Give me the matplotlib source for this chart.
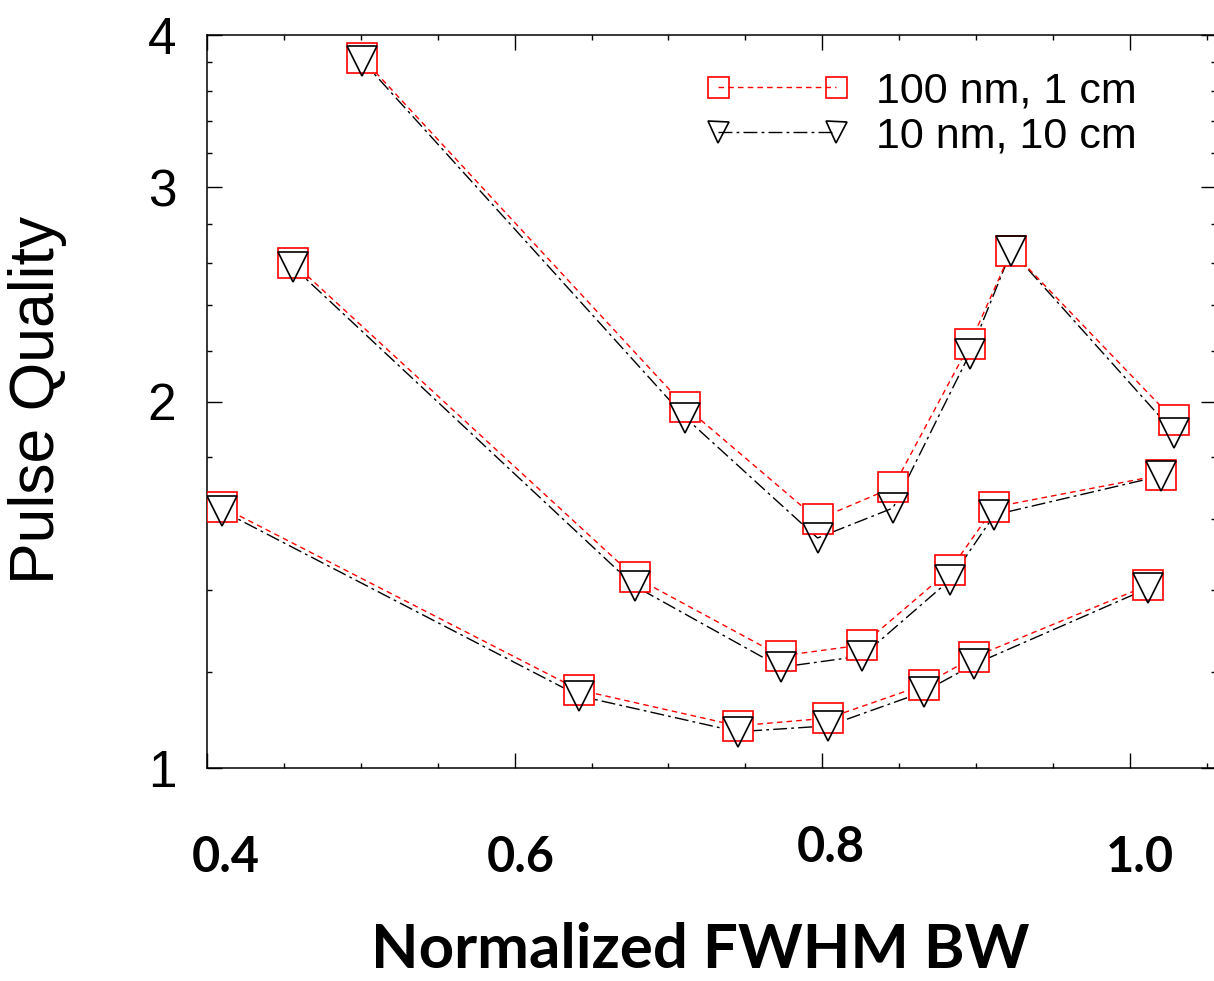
import numpy as np
import matplotlib
matplotlib.use("Agg")
import matplotlib.pyplot as plt
from matplotlib.lines import Line2D
from matplotlib.ticker import FixedLocator, NullFormatter
from matplotlib.transforms import ScaledTranslation

# ---------------- data ----------------
series_labels = ["100 nm, 1 cm", "10 nm, 10 cm"]

# curve A (starts at 0.5)
xA = [0.501, 0.711, 0.797, 0.846, 0.896, 0.923, 1.029]
yA_100 = [3.83, 1.98, 1.60, 1.70, 2.23, 2.66, 1.93]
yA_10 = [3.81, 1.94, 1.545, 1.635, 2.19, 2.66, 1.885]

# curve B (starts at 0.45)
xB = [0.456, 0.678, 0.773, 0.826, 0.883, 0.912, 1.020]
yB_100 = [2.60, 1.435, 1.236, 1.262, 1.454, 1.638, 1.740]
yB_10 = [2.58, 1.411, 1.210, 1.236, 1.427, 1.614, 1.737]

# curve C (starts at 0.41)
xC = [0.410, 0.642, 0.745, 0.804, 0.866, 0.899, 1.012]
yC_100 = [1.638, 1.159, 1.083, 1.099, 1.170, 1.234, 1.413]
yC_10 = [1.626, 1.146, 1.071, 1.083, 1.155, 1.217, 1.405]

xticks = [0.4, 0.6, 0.8, 1.0]
xtick_labels = ["0.4", "0.6", "0.8", "1.0"]
yticks = [1, 2, 3, 4]
ytick_labels = ["1", "2", "3", "4"]

# ---------------- figure ----------------
W, H = 1214, 981
fig = plt.figure(figsize=(W / 100, H / 100), dpi=100)
ax = fig.add_axes([207 / W, 1 - 768 / H, (1216 - 207) / W, (768 - 35) / H])

red_ls = (0, (4, 3))
blk_ls = (0, (10, 3, 2, 3))
ms = 21

xs = [xA, xB, xC]
y100 = [yA_100, yB_100, yC_100]
y10 = [yA_10, yB_10, yC_10]

for x, y in zip(xs, y10):
    ax.plot(x, y, color="black", ls=blk_ls, lw=1.0, zorder=2)
for x, y in zip(xs, y100):
    ax.plot(x, y, color="red", ls=red_ls, lw=1.0, zorder=3,
            marker="s", ms=ms, mfc="white", mec="red", mew=1.2)
for x, y in zip(xs, y10):
    ax.plot(x, y, ls="none", marker="v", ms=ms, mfc="none",
            mec="black", mew=1.2, zorder=4)

ax.set_yscale("log")
ax.set_xlim(0.4, 0.4 + (1216 - 207) / 1538)
ax.set_ylim(1, 4)

ax.xaxis.set_major_locator(FixedLocator(xticks))
ax.xaxis.set_minor_locator(FixedLocator(np.round(np.arange(0.40, 1.06, 0.05), 3)))
ax.set_xticklabels(xtick_labels)
ax.yaxis.set_major_locator(FixedLocator(yticks))
ax.yaxis.set_minor_locator(FixedLocator(np.round(np.arange(1.2, 4.0, 0.2), 2)))
ax.yaxis.set_minor_formatter(NullFormatter())
ax.set_yticklabels(ytick_labels)

ax.tick_params(which="both", direction="in", top=True, right=True, width=1.0)
ax.tick_params(which="major", length=11)
ax.tick_params(which="minor", length=3.5)
ax.tick_params(axis="x", which="major", pad=48)
ax.tick_params(axis="y", which="major", pad=22)

for lab in ax.get_xticklabels():
    lab.set_fontfamily("Lato")
    lab.set_fontweight("bold")
    lab.set_fontsize(35)
for lab in ax.get_yticklabels():
    lab.set_fontfamily("Liberation Sans")
    lab.set_fontsize(37)

# per-label offsets as in the reference
offs = [(19, 0), (6, 0), (9, 10), (10, 0)]
for lab, (dx, dy) in zip(ax.get_xticklabels(), offs):
    lab.set_transform(lab.get_transform() + ScaledTranslation(dx / 100, dy / 100, fig.dpi_scale_trans))

for sp in ax.spines.values():
    sp.set_linewidth(1.1)

ax.set_xlabel("Normalized FWHM BW", fontfamily="Lato", fontweight="bold", fontsize=44.5)
ax.xaxis.set_label_coords((700 - 207) / 1009, (768 - 922) / 733)
ax.set_ylabel("Pulse Quality", fontfamily="Liberation Sans", fontsize=45)
ax.yaxis.set_label_coords((38 - 207) / 1009, 0.502)
ax.yaxis.label.set_va("center")

handles = [
    Line2D([], [], color="red", ls=red_ls, lw=1.0, marker="s", ms=ms, mfc="none", mec="red", mew=1.2),
    Line2D([], [], color="black", ls=blk_ls, lw=1.0, marker="v", ms=ms, mfc="none", mec="black", mew=1.2),
]
fs_leg = 31
fs_px = fs_leg * 100 / 72
leg = fig.legend(handles, series_labels, loc="upper left",
                 bbox_to_anchor=(705 / W, 1 - 71 / H), frameon=False,
                 numpoints=2, markerscale=0.72, handlelength=144 / fs_px,
                 handletextpad=27 / fs_px,
                 labelspacing=0.12, borderpad=0, borderaxespad=0,
                 prop={"family": "Liberation Sans", "size": fs_leg})

fig.savefig("out.png", dpi=100)
